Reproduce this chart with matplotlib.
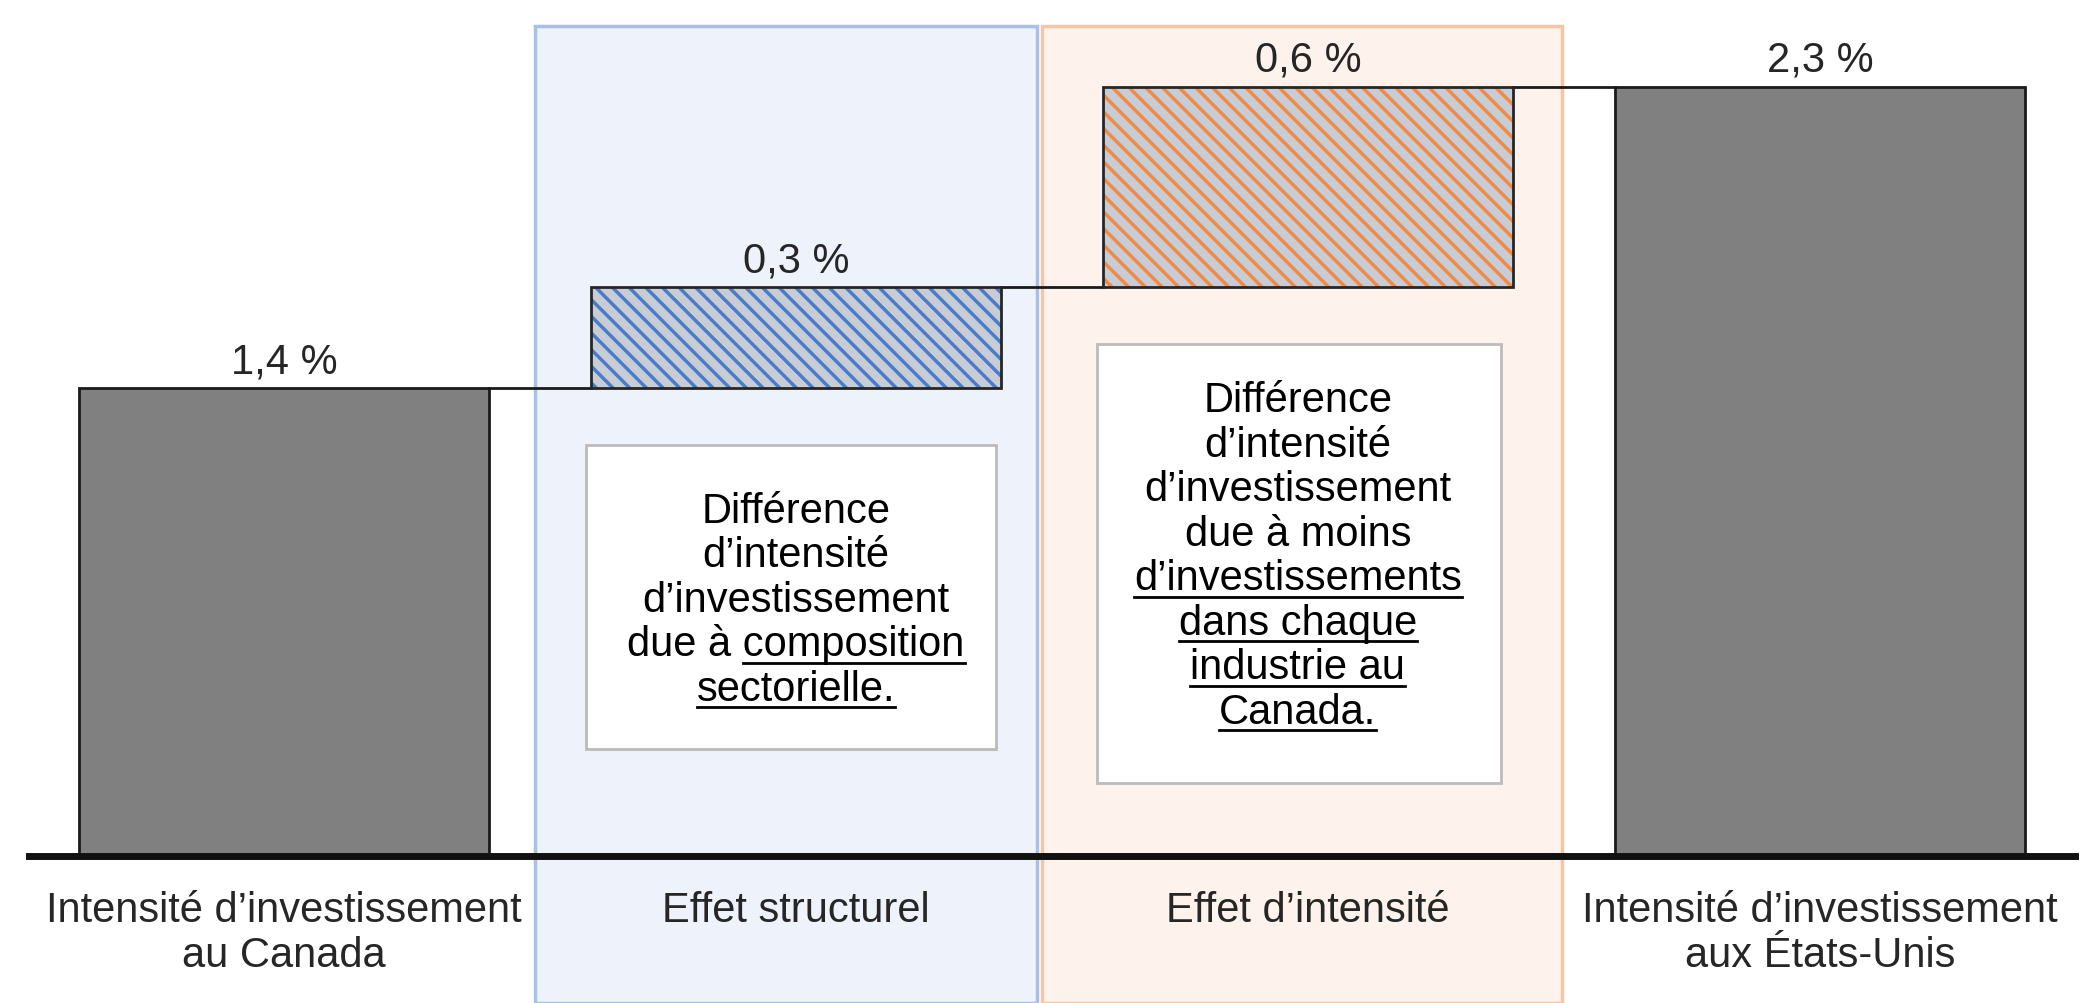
import matplotlib
matplotlib.use("Agg")
import matplotlib.pyplot as plt
from matplotlib.patches import Rectangle

categories = ["Intensité d\u2019investissement\nau Canada", "Effet structurel",
              "Effet d\u2019intensité", "Intensité d\u2019investissement\naux États-Unis"]
values = [1.4, 0.3, 0.6, 2.3]
value_labels = ["1,4 %", "0,3 %", "0,6 %", "2,3 %"]

plt.rcParams["font.family"] = "Liberation Sans"
plt.rcParams["hatch.linewidth"] = 6

FS = 30

fig = plt.figure(figsize=(20.96, 10.04), dpi=100)
ax = fig.add_axes([0, 0, 1, 1])
ax.set_xlim(-0.555, 3.539)
ax.set_ylim(-0.438, 2.562)
ax.axis("off")

# bases du waterfall
bottoms = [0, values[0], values[0] + values[1], 0]
tops = [b + v for b, v in zip(bottoms, values)]
w = 0.8

# zones ombrées
ax.add_patch(Rectangle((0.49, -0.438), 0.98, 2.92, facecolor="#EEF2FA", edgecolor="#A9C0E6", lw=2.5, zorder=0))
ax.add_patch(Rectangle((1.48, -0.438), 1.015, 2.92, facecolor="#FDF3EC", edgecolor="#F6C5A5", lw=2.5, zorder=0))

fills = ["#808080", "#4A7CCB", "#F08A45", "#808080"]
for i in range(4):
    if i in (1, 2):
        ax.bar(i, values[i], w, bottom=bottoms[i], color=fills[i], edgecolor="#C8CCD4",
               hatch="\\\\", lw=0, zorder=2)
        ax.bar(i, values[i], w, bottom=bottoms[i], fill=False, edgecolor="#262626", lw=2, zorder=3)
    else:
        ax.bar(i, values[i], w, bottom=bottoms[i], color=fills[i], edgecolor="#1a1a1a", lw=2, zorder=2)
    ax.text(i, tops[i] + 0.02, value_labels[i], ha="center", va="bottom", fontsize=FS, color="#262626")
    ax.text(i, -0.1, categories[i], ha="center", va="top", fontsize=FS, color="#262626", linespacing=1.15)

# connecteurs
for i in range(3):
    ax.plot([i + w / 2, i + 1 - w / 2], [tops[i], tops[i]], color="#1a1a1a", lw=2, zorder=1)

ax.axhline(0, xmin=0.014, xmax=0.99, color="#111111", lw=5, zorder=4)

# boîtes de texte
ax.add_patch(Rectangle((0.59, 0.32), 0.8, 0.91, facecolor="white", edgecolor="#BBBBBB", lw=2, zorder=2))
ax.add_patch(Rectangle((1.587, 0.22), 0.79, 1.31, facecolor="white", edgecolor="#BBBBBB", lw=2, zorder=2))

box1 = [("Différence", ""), ("d\u2019intensité", ""), ("d\u2019investissement", ""),
        ("due à ", "composition"), ("", "sectorielle.")]
box2 = [("Différence", ""), ("d\u2019intensité", ""), ("d\u2019investissement", ""),
        ("due à moins", ""), ("", "d\u2019investissements"), ("", "dans chaque"),
        ("", "industrie au"), ("", "Canada.")]

fig.canvas.draw()
renderer = fig.canvas.get_renderer()
inv = ax.transData.inverted()


def largeur(s):
    t = ax.text(0, 0, s, fontsize=FS)
    wd = t.get_window_extent(renderer).width
    t.remove()
    return wd


def text_block(xc, ytop, lines, dy=0.133):
    for k, (plain, under) in enumerate(lines):
        y = ytop - k * dy
        t = ax.text(xc, y, plain + under, ha="center", va="baseline", fontsize=FS, color="black", zorder=5)
        bb = t.get_window_extent(renderer)
        if under:
            start = bb.x0
            if plain:
                start += largeur("x" + plain + "x") - largeur("xx")
            x0, _ = inv.transform((start, bb.y0))
            x1, _ = inv.transform((bb.x1, bb.y0))
            ax.plot([x0, x1], [y - 0.022, y - 0.022], color="black", lw=2, zorder=5)


text_block(1.0, 1.0, box1)
text_block(1.98, 1.33, box2)

fig.savefig("out.png", dpi=100)
